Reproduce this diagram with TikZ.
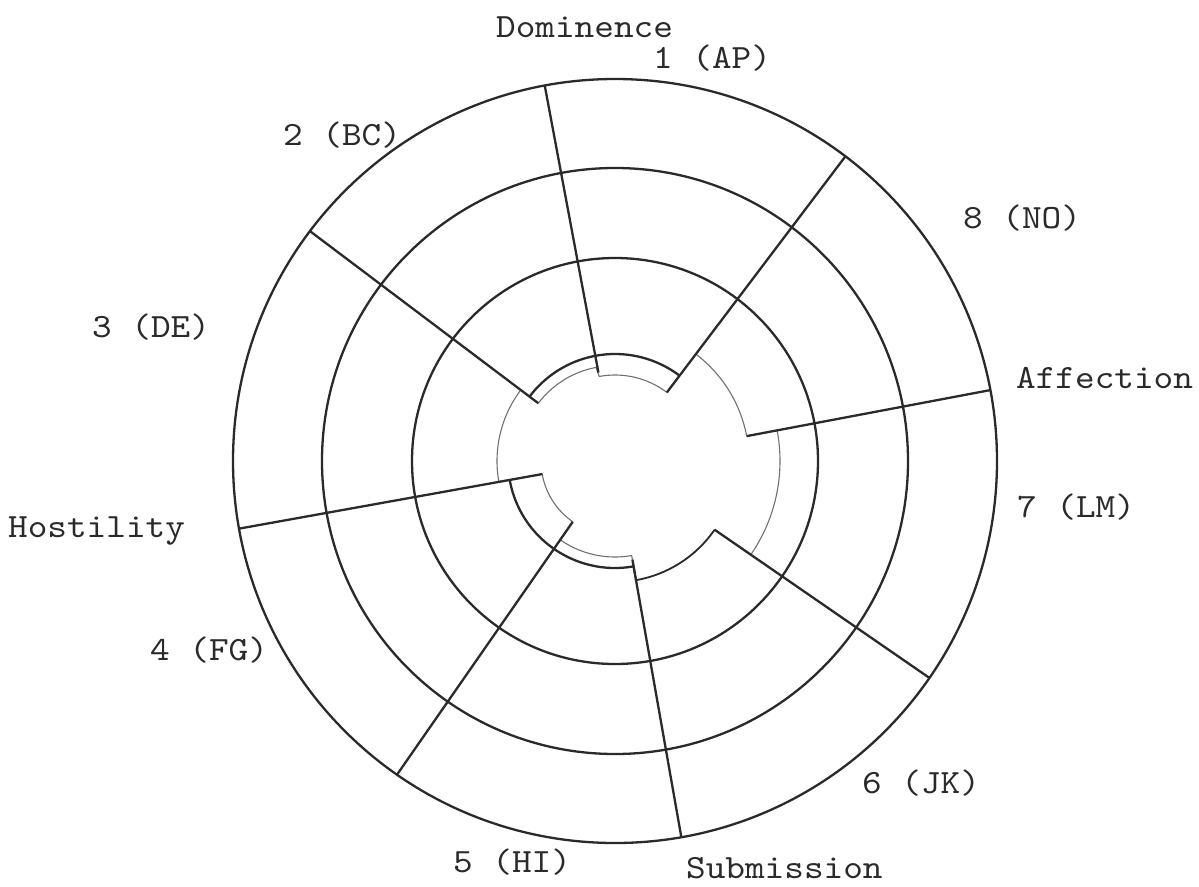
\documentclass[tikz,border=0pt]{standalone}
\usepackage{fontspec}
\newfontfamily\twfont{lmmono10-regular}[Extension=.otf, FakeStretch=1.1]
\usetikzlibrary{calc}
\definecolor{ink}{HTML}{2A2A2A}
\definecolor{edgec}{HTML}{707070}
\begin{document}
\begin{tikzpicture}[x=1pt,y=-1pt,
  ring/.style={draw=ink, line width=2.3pt},
  spoke/.style={draw=ink, line width=2.3pt},
  hole/.style={draw=edgec, line width=1.1pt, line join=round},
  lab/.style={font=\twfont\fontsize{34}{38}\selectfont, text=ink, inner sep=0pt, anchor=base west}]
\useasboundingbox (0,0) rectangle (1199,886);
\coordinate (c) at (615,461);
\begin{scope}[shift={(c)}]
  % edge of the cut-out centre
  \draw[hole] (143:96pt) arc[start angle=143, end angle=100.6, radius=94pt]
    -- (100.6:86pt) arc[start angle=100.6, end angle=52.9, radius=86pt]
    -- (52.9:134pt) arc[start angle=52.9, end angle=10.7, radius=134pt]
    -- (10.7:165pt) arc[start angle=10.7, end angle=-34.6, radius=165pt]
    -- (-34.6:121pt)
    (-80:100pt) -- (-80:96pt) arc[start angle=-80, end angle=-125, radius=96pt]
    -- (-125:74pt) arc[start angle=-125, end angle=-170, radius=74pt]
    -- (-170:118pt) arc[start angle=-170, end angle=-217, radius=118pt];
  \draw[ink, line width=1.8pt] (-34.6:121pt) arc[start angle=-34.6, end angle=-80, radius=121pt] -- (-80:104pt);
  % rings
  \draw[ring] (0,0) circle[radius=382pt];
  \draw[ring] (0,0) circle[radius=293pt];
  \draw[ring] (0,0) circle[radius=203pt];
  \draw[ring] (143:107pt) arc[start angle=143, end angle=52.9, radius=107pt];
  \draw[ring] (190.2:107pt) arc[start angle=190.2, end angle=280, radius=107pt];
  % spokes
  \coordinate (s1i) at (100.6:90pt);  \coordinate (s1o) at (100.6:382pt);
  \coordinate (s2i) at (143:96pt);    \coordinate (s2o) at (143:382pt);
  \coordinate (s3i) at (190.2:74pt);  \coordinate (s3o) at (190.2:382pt);
  \coordinate (s4i) at (235.2:74pt);  \coordinate (s4o) at (235.2:382pt);
  \coordinate (s5i) at (280:100pt);   \coordinate (s5o) at (280:382pt);
  \coordinate (s6i) at (325.4:121pt); \coordinate (s6o) at (325.4:382pt);
  \coordinate (s7i) at (10.7:134pt);  \coordinate (s7o) at (10.7:382pt);
  \coordinate (s8i) at (52.9:86pt);   \coordinate (s8o) at (52.9:382pt);
  \foreach \k in {1,...,8} { \draw[spoke] (s\k i) -- (s\k o); }
\end{scope}
% labels
\node[lab] (dom)  at (496,37)  {Dominence};
\node[lab] (l1)   at (653,68)  {1 (AP)};
\node[lab] (l2)   at (283,145) {2 (BC)};
\node[lab] (l8)   at (963,228) {8 (NO)};
\node[lab] (l3)   at (92,337)  {3 (DE)};
\node[lab] (aff)  at (1016,388) {Affection};
\node[lab] (host) at (8,537)   {Hostility};
\node[lab] (l7)   at (1017,517) {7 (LM)};
\node[lab] (l4)   at (150,660) {4 (FG)};
\node[lab] (l6)   at (862,793) {6 (JK)};
\node[lab] (l5)   at (453,872) {5 (HI)};
\node[lab] (sub)  at (686,878) {Submission};
\end{tikzpicture}
\end{document}
